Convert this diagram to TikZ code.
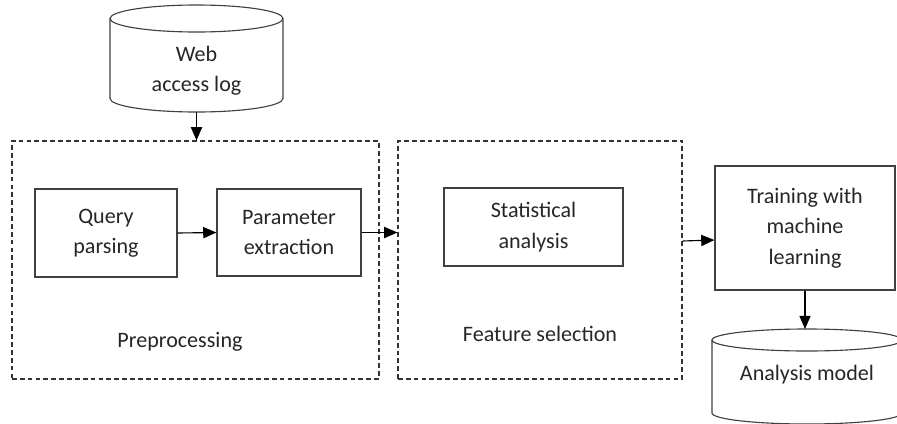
\documentclass[tikz,border=0pt]{standalone}
\usepackage{fontspec}
\setmainfont{Carlito}
\usetikzlibrary{arrows.meta}

\begin{document}
\begin{tikzpicture}[
    x=0.025cm, y=-0.025cm,
    every node/.style = {font=\fontsize{15.7}{21.5}\selectfont, text=black!85},
    block/.style = {rectangle, draw=black!75, line width=0.8pt, align=center,
                    inner sep=0pt},
    stage/.style = {rectangle, draw=black!80, line width=0.8pt,
                    dash pattern=on 3.4pt off 2.2pt, inner sep=0pt},
    store/.style = {draw=black!75, line width=0.8pt},
    arr/.style = {-{Triangle[length=3.3mm, width=2.8mm]}, line width=0.8pt, black},
]
\useasboundingbox (0,0) rectangle (897,423);

%% ---- Input log (cylinder) ----
\draw[store] (196.5, 18.5) ellipse [x radius=86.5, y radius=13.5];
\draw[store] (110, 18.5) -- (110, 98.5)
    arc [start angle=180, end angle=0, x radius=86.5, y radius=13.5] -- (283, 18.5);
\node[align=center] (weblog) at (196.5, 71) {Web\\access log};
\coordinate (weblogbot) at (196.5, 112);

%% ---- Stages (dashed) ----
\node[stage, minimum width=9.175cm, minimum height=5.95cm] (prep) at (195.5, 260) {};
\node[stage, minimum width=7.1cm, minimum height=5.95cm]   (feat) at (540, 260) {};
\node (preplabel) at (180, 342) {Preprocessing};
\node (featlabel) at (540, 334) {Feature selection};

%% ---- Steps ----
\node[block, minimum width=3.55cm, minimum height=2.2cm]  (query) at (106, 233)   {Query\\parsing};
\node[block, minimum width=3.6cm, minimum height=2.175cm] (param) at (289, 232.5) {Parameter\\extraction};
\node[block, minimum width=4.475cm, minimum height=1.95cm] (stat) at (533.5, 227) {Statistical\\analysis};
\node[block, minimum width=4.5cm, minimum height=3.1cm]   (train) at (805, 228)   {Training with\\machine\\learning};

%% ---- Output model (cylinder) ----
\draw[store] (807, 340) ellipse [x radius=95, y radius=11];
\draw[store] (712, 340) -- (712, 413)
    arc [start angle=180, end angle=0, x radius=95, y radius=11] -- (902, 340);
\node (model) at (807, 375) {Analysis model};
\coordinate (modeltop) at (train.south |- 0, 329);

%% ---- Flow ----
\draw[arr] (weblogbot) -- (weblogbot |- prep.north);
\draw[arr] (query.east) -- (param.west);
\draw[arr] (param.east) -- (param.east -| feat.west);
\draw[arr] ([yshift=0.475cm]feat.east) -- ([yshift=-0.3cm]train.west);
\draw[arr] (train.south) -- (modeltop);

\end{tikzpicture}
\end{document}
